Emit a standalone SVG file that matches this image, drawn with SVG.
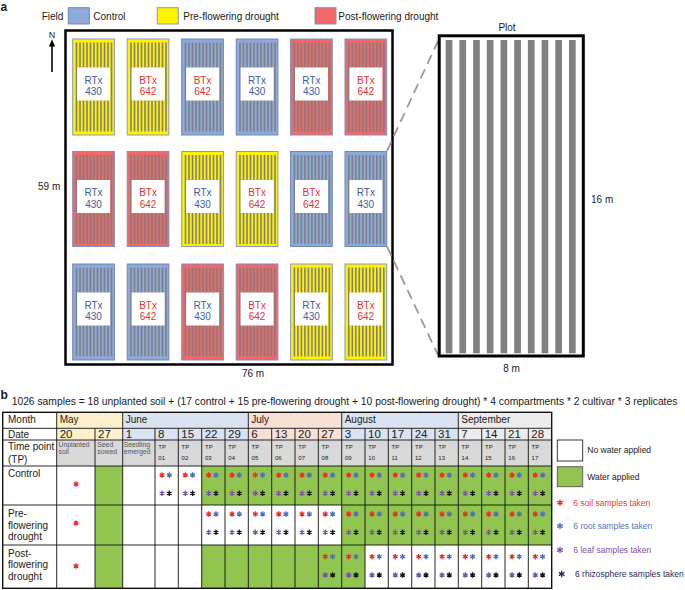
<svg xmlns="http://www.w3.org/2000/svg" width="685" height="590" viewBox="0 0 685 590">
<style>
text{font-family:"Liberation Sans",Arial,sans-serif;fill:#1a1a1a}
.f10{font-size:10px}
.lbl{font-size:10px}
.rt{font-size:10px;fill:#3e59a8;text-anchor:middle}
.bt{font-size:10px;fill:#e8302f;text-anchor:middle}
.cy{fill:#fff200;stroke:#8597c2;stroke-width:1}
.cb{fill:#8eaadb;stroke:#6f86b8;stroke-width:1}
.cr{fill:#f06868;stroke:#7e8fbd;stroke-width:1}
.box{fill:#fff}
.small{font-size:6.8px;fill:#555}
.tp{font-size:6px;fill:#555}
.date{font-size:11.5px}
.mon{font-size:10px}
.leg{font-size:8.5px}
.grid{stroke:#111;stroke-width:0.9;fill:none}
.ast{stroke-width:1.3;fill:none;stroke-linecap:butt}
</style>
<defs>
<g id="st" fill="#7f7f7f">
<rect x="3" y="3.5" width="1.6" height="89"/><rect x="6.5" y="3.5" width="1.6" height="89"/><rect x="10" y="3.5" width="1.6" height="89"/><rect x="13.5" y="3.5" width="1.6" height="89"/><rect x="17" y="3.5" width="1.6" height="89"/><rect x="20.5" y="3.5" width="1.6" height="89"/><rect x="24" y="3.5" width="1.6" height="89"/><rect x="27.5" y="3.5" width="1.6" height="89"/><rect x="31" y="3.5" width="1.6" height="89"/><rect x="34.5" y="3.5" width="1.6" height="89"/><rect x="38" y="3.5" width="1.6" height="89"/>
</g>
<path id="ak" d="M0,-2.7V2.7M-2.35,-1.35L2.35,1.35M-2.35,1.35L2.35,-1.35"/>
<path id="akL" d="M0,-3.2V3.2M-2.8,-1.6L2.8,1.6M-2.8,1.6L2.8,-1.6"/>
<g id="a4" class="ast">
<use href="#ak" x="7" y="0" stroke="#ee2b25"/><use href="#ak" x="14.3" y="0" stroke="#4e6ebd"/>
<use href="#ak" x="7" y="18.3" stroke="#7b4fa3"/><use href="#ak" x="14.3" y="18.3" stroke="#111"/>
</g>
</defs>

<!-- panel a -->
<text x="0.5" y="11" style="font-size:12px;font-weight:bold">a</text>
<g id="legend-field">
<text x="41.7" y="20" class="f10">Field</text>
<rect x="68.3" y="7.7" width="21" height="16.3" class="cb"/>
<text x="93.3" y="20" class="f10">Control</text>
<rect x="157.3" y="7.7" width="21" height="16.3" class="cy"/>
<text x="183.3" y="20" class="f10">Pre-flowering drought</text>
<rect x="315" y="7.7" width="21" height="16.3" class="cr"/>
<text x="338.3" y="20" class="f10">Post-flowering drought</text>
</g>
<g id="north">
<text x="52" y="38.3" style="font-size:9px;text-anchor:middle">N</text>
<line x1="52" y1="44" x2="52" y2="72" stroke="#000" stroke-width="1.6"/>
<polygon points="52,39.5 48.8,46.5 55.2,46.5" fill="#000"/>
</g>
<g id="field">
<rect x="65.5" y="30.5" width="327" height="334" fill="#fff" stroke="#000" stroke-width="2.5"/>
</g>

<g id="p11" transform="translate(72.7,39)"><rect width="41.7" height="96" class="cy"/><use href="#st"/><rect x="4.4" y="28.5" width="33" height="33" class="box"/><text x="20.85" y="44.5" class="rt">RTx</text><text x="20.85" y="56" class="rt">430</text></g>
<g id="p12" transform="translate(127.2,39)"><rect width="41.7" height="96" class="cy"/><use href="#st"/><rect x="4.4" y="28.5" width="33" height="33" class="box"/><text x="20.85" y="44.5" class="bt">BTx</text><text x="20.85" y="56" class="bt">642</text></g>
<g id="p13" transform="translate(181.7,39)"><rect width="41.7" height="96" class="cb"/><use href="#st"/><rect x="4.4" y="28.5" width="33" height="33" class="box"/><text x="20.85" y="44.5" class="bt">BTx</text><text x="20.85" y="56" class="bt">642</text></g>
<g id="p14" transform="translate(236.2,39)"><rect width="41.7" height="96" class="cb"/><use href="#st"/><rect x="4.4" y="28.5" width="33" height="33" class="box"/><text x="20.85" y="44.5" class="rt">RTx</text><text x="20.85" y="56" class="rt">430</text></g>
<g id="p15" transform="translate(290.6,39)"><rect width="41.7" height="96" class="cr"/><use href="#st"/><rect x="4.4" y="28.5" width="33" height="33" class="box"/><text x="20.85" y="44.5" class="rt">RTx</text><text x="20.85" y="56" class="rt">430</text></g>
<g id="p16" transform="translate(345,39)"><rect width="41.7" height="96" class="cr"/><use href="#st"/><rect x="4.4" y="28.5" width="33" height="33" class="box"/><text x="20.85" y="44.5" class="bt">BTx</text><text x="20.85" y="56" class="bt">642</text></g>

<g id="p21" transform="translate(72.7,151.5)"><rect width="41.7" height="95" class="cr"/><use href="#st"/><rect x="4.4" y="28.5" width="33" height="33" class="box"/><text x="20.85" y="44.5" class="rt">RTx</text><text x="20.85" y="56" class="rt">430</text></g>
<g id="p22" transform="translate(127.2,151.5)"><rect width="41.7" height="95" class="cr"/><use href="#st"/><rect x="4.4" y="28.5" width="33" height="33" class="box"/><text x="20.85" y="44.5" class="bt">BTx</text><text x="20.85" y="56" class="bt">642</text></g>
<g id="p23" transform="translate(181.7,151.5)"><rect width="41.7" height="95" class="cy"/><use href="#st"/><rect x="4.4" y="28.5" width="33" height="33" class="box"/><text x="20.85" y="44.5" class="rt">RTx</text><text x="20.85" y="56" class="rt">430</text></g>
<g id="p24" transform="translate(236.2,151.5)"><rect width="41.7" height="95" class="cy"/><use href="#st"/><rect x="4.4" y="28.5" width="33" height="33" class="box"/><text x="20.85" y="44.5" class="bt">BTx</text><text x="20.85" y="56" class="bt">642</text></g>
<g id="p25" transform="translate(290.6,151.5)"><rect width="41.7" height="95" class="cb"/><use href="#st"/><rect x="4.4" y="28.5" width="33" height="33" class="box"/><text x="20.85" y="44.5" class="bt">BTx</text><text x="20.85" y="56" class="bt">642</text></g>
<g id="p26" transform="translate(345,151.5)"><rect width="41.7" height="95" class="cb"/><use href="#st"/><rect x="4.4" y="28.5" width="33" height="33" class="box"/><text x="20.85" y="44.5" class="rt">RTx</text><text x="20.85" y="56" class="rt">430</text></g>

<g id="p31" transform="translate(72.7,264)"><rect width="41.7" height="96" class="cb"/><use href="#st"/><rect x="4.4" y="28.5" width="33" height="33" class="box"/><text x="20.85" y="44.5" class="rt">RTx</text><text x="20.85" y="56" class="rt">430</text></g>
<g id="p32" transform="translate(127.2,264)"><rect width="41.7" height="96" class="cb"/><use href="#st"/><rect x="4.4" y="28.5" width="33" height="33" class="box"/><text x="20.85" y="44.5" class="bt">BTx</text><text x="20.85" y="56" class="bt">642</text></g>
<g id="p33" transform="translate(181.7,264)"><rect width="41.7" height="96" class="cr"/><use href="#st"/><rect x="4.4" y="28.5" width="33" height="33" class="box"/><text x="20.85" y="44.5" class="rt">RTx</text><text x="20.85" y="56" class="rt">430</text></g>
<g id="p34" transform="translate(236.2,264)"><rect width="41.7" height="96" class="cr"/><use href="#st"/><rect x="4.4" y="28.5" width="33" height="33" class="box"/><text x="20.85" y="44.5" class="bt">BTx</text><text x="20.85" y="56" class="bt">642</text></g>
<g id="p35" transform="translate(290.6,264)"><rect width="41.7" height="96" class="cy"/><use href="#st"/><rect x="4.4" y="28.5" width="33" height="33" class="box"/><text x="20.85" y="44.5" class="rt">RTx</text><text x="20.85" y="56" class="rt">430</text></g>
<g id="p36" transform="translate(345,264)"><rect width="41.7" height="96" class="cy"/><use href="#st"/><rect x="4.4" y="28.5" width="33" height="33" class="box"/><text x="20.85" y="44.5" class="bt">BTx</text><text x="20.85" y="56" class="bt">642</text></g>

<text x="38" y="189.5" class="f10">59 m</text>
<text x="253" y="376.5" class="f10" text-anchor="middle">76 m</text>

<g id="connectors">
<line x1="387" y1="151" x2="438" y2="41" stroke="#9a9a9a" stroke-width="1.8" stroke-dasharray="10,6"/>
<line x1="387" y1="246.5" x2="438" y2="355" stroke="#9a9a9a" stroke-width="1.8" stroke-dasharray="10,6"/>
</g>

<g id="plot-detail">
<text x="507" y="31" class="f10" text-anchor="middle">Plot</text>
<rect x="439.2" y="35.8" width="144.1" height="320.2" fill="#fff" stroke="#000" stroke-width="3"/>
<g fill="#808080">
<rect x="445.7" y="40" width="6.7" height="313.3"/><rect x="459.4" y="40" width="6.7" height="313.3"/><rect x="473.1" y="40" width="6.7" height="313.3"/><rect x="486.8" y="40" width="6.7" height="313.3"/><rect x="500.5" y="40" width="6.7" height="313.3"/><rect x="514.2" y="40" width="6.7" height="313.3"/><rect x="527.9" y="40" width="6.7" height="313.3"/><rect x="541.6" y="40" width="6.7" height="313.3"/><rect x="555.3" y="40" width="6.7" height="313.3"/><rect x="569" y="40" width="6.7" height="313.3"/>
</g>
<text x="591" y="203" class="f10">16 m</text>
<text x="511.5" y="372" class="f10" text-anchor="middle">8 m</text>
</g>

<!-- panel b -->
<text x="0.5" y="399" style="font-size:12px;font-weight:bold">b</text>
<text x="11.7" y="404.5" style="font-size:10.3px">1026 samples = 18 unplanted soil + (17 control + 15 pre-flowering drought + 10 post-flowering drought) * 4 compartments * 2 cultivar * 3 replicates</text>

<g id="table">
<!-- fills -->
<rect x="2.7" y="412.3" width="549" height="176" fill="#fff"/>
<rect x="56.7" y="412.3" width="66" height="27.7" fill="#fdf0ca"/>
<rect x="122.7" y="412.3" width="125.6" height="27.7" fill="#dae3f1"/>
<rect x="248.3" y="412.3" width="93.4" height="27.7" fill="#f8e0d5"/>
<rect x="341.7" y="412.3" width="116.6" height="27.7" fill="#dae3f1"/>
<rect x="458.3" y="412.3" width="93.4" height="27.7" fill="#ececec"/>
<rect x="56.7" y="440" width="495" height="26" fill="#d9d9d9"/>
<rect x="95" y="466" width="27.7" height="122.3" fill="#92c450"/>
<rect x="201.7" y="466" width="350" height="39" fill="#92c450"/>
<rect x="341.7" y="505" width="210" height="40" fill="#92c450"/>
<rect x="201.7" y="545" width="163.3" height="43.3" fill="#92c450"/>
<!-- grid -->
<g class="grid">
<path d="M2.7,428.3H551.7M2.7,440H551.7M2.7,466H551.7M2.7,505H551.7M2.7,545H551.7"/>
<path d="M56.7,412.3V588.3M122.7,412.3V588.3M248.3,412.3V588.3M341.7,412.3V588.3M458.3,412.3V588.3"/>
<path d="M95,428.3V588.3M155,428.3V588.3M178.3,428.3V588.3M201.7,428.3V588.3M225,428.3V588.3M271.7,428.3V588.3M295,428.3V588.3M318.3,428.3V588.3M365,428.3V588.3M388.3,428.3V588.3M411.7,428.3V588.3M435,428.3V588.3M481.7,428.3V588.3M505,428.3V588.3M528.3,428.3V588.3"/>
<rect x="2.7" y="412.3" width="549" height="176" stroke-width="1.4"/>
</g>
<!-- labels -->
<text x="8" y="423" class="lbl">Month</text>
<text x="8" y="437.7" class="lbl">Date</text>
<text x="8" y="450" class="lbl">Time point</text>
<text x="8" y="463" class="lbl">(TP)</text>
<text x="8" y="477" class="lbl">Control</text>
<text x="8" y="517" class="lbl">Pre-</text>
<text x="8" y="528.5" class="lbl">flowering</text>
<text x="8" y="540" class="lbl">drought</text>
<text x="8" y="556.5" class="lbl">Post-</text>
<text x="8" y="568" class="lbl">flowering</text>
<text x="8" y="579.5" class="lbl">drought</text>
<!-- months -->
<text x="59.7" y="423" class="mon">May</text>
<text x="125.7" y="423" class="mon">June</text>
<text x="251.3" y="423" class="mon">July</text>
<text x="344.7" y="423" class="mon">August</text>
<text x="461.3" y="423" class="mon">September</text>
<!-- dates -->
<g class="date">
<text x="59.7" y="437.7">20</text><text x="98" y="437.7">27</text><text x="125.7" y="437.7">1</text>
<text x="158" y="437.7">8</text><text x="181.3" y="437.7">15</text><text x="204.7" y="437.7">22</text><text x="228" y="437.7">29</text>
<text x="251.3" y="437.7">6</text><text x="274.7" y="437.7">13</text><text x="298" y="437.7">20</text><text x="321.3" y="437.7">27</text>
<text x="344.7" y="437.7">3</text><text x="368" y="437.7">10</text><text x="391.3" y="437.7">17</text><text x="414.7" y="437.7">24</text><text x="438" y="437.7">31</text>
<text x="461.3" y="437.7">7</text><text x="484.7" y="437.7">14</text><text x="508" y="437.7">21</text><text x="531.3" y="437.7">28</text>
</g>
<!-- time points -->
<text x="58.5" y="446.5" class="small">Unplanted</text><text x="58.5" y="453.5" class="small">soil</text>
<text x="97.3" y="446.5" class="small">Seed</text><text x="97.3" y="453.5" class="small">sowed</text>
<text x="123.7" y="446.5" class="small">Seedling</text><text x="123.7" y="453.5" class="small">emerged</text>
<g class="tp">
<text x="158.3" y="448.5">TP</text><text x="158.3" y="460">01</text>
<text x="181.6" y="448.5">TP</text><text x="181.6" y="460">02</text>
<text x="205" y="448.5">TP</text><text x="205" y="460">03</text>
<text x="228.3" y="448.5">TP</text><text x="228.3" y="460">04</text>
<text x="251.6" y="448.5">TP</text><text x="251.6" y="460">05</text>
<text x="275" y="448.5">TP</text><text x="275" y="460">06</text>
<text x="298.3" y="448.5">TP</text><text x="298.3" y="460">07</text>
<text x="321.6" y="448.5">TP</text><text x="321.6" y="460">08</text>
<text x="345" y="448.5">TP</text><text x="345" y="460">09</text>
<text x="368.3" y="448.5">TP</text><text x="368.3" y="460">10</text>
<text x="391.6" y="448.5">TP</text><text x="391.6" y="460">11</text>
<text x="415" y="448.5">TP</text><text x="415" y="460">12</text>
<text x="438.3" y="448.5">TP</text><text x="438.3" y="460">13</text>
<text x="461.6" y="448.5">TP</text><text x="461.6" y="460">14</text>
<text x="485" y="448.5">TP</text><text x="485" y="460">15</text>
<text x="508.3" y="448.5">TP</text><text x="508.3" y="460">16</text>
<text x="531.6" y="448.5">TP</text><text x="531.6" y="460">17</text>
</g>
<!-- asterisks -->
<g class="ast" stroke="#ee2b25">
<use href="#ak" x="76" y="484"/><use href="#ak" x="76" y="523"/><use href="#ak" x="76" y="566"/>
</g>
<g id="ctl-ast">
<use href="#a4" x="155" y="475"/><use href="#a4" x="178.3" y="475"/><use href="#a4" x="201.7" y="475"/><use href="#a4" x="225" y="475"/><use href="#a4" x="248.3" y="475"/><use href="#a4" x="271.7" y="475"/><use href="#a4" x="295" y="475"/><use href="#a4" x="318.3" y="475"/><use href="#a4" x="341.7" y="475"/><use href="#a4" x="365" y="475"/><use href="#a4" x="388.3" y="475"/><use href="#a4" x="411.7" y="475"/><use href="#a4" x="435" y="475"/><use href="#a4" x="458.3" y="475"/><use href="#a4" x="481.7" y="475"/><use href="#a4" x="505" y="475"/><use href="#a4" x="528.3" y="475"/>
</g>
<g id="pre-ast">
<use href="#a4" x="201.7" y="514"/><use href="#a4" x="225" y="514"/><use href="#a4" x="248.3" y="514"/><use href="#a4" x="271.7" y="514"/><use href="#a4" x="295" y="514"/><use href="#a4" x="318.3" y="514"/><use href="#a4" x="341.7" y="514"/><use href="#a4" x="365" y="514"/><use href="#a4" x="388.3" y="514"/><use href="#a4" x="411.7" y="514"/><use href="#a4" x="435" y="514"/><use href="#a4" x="458.3" y="514"/><use href="#a4" x="481.7" y="514"/><use href="#a4" x="505" y="514"/><use href="#a4" x="528.3" y="514"/>
</g>
<g id="post-ast">
<use href="#a4" x="318.3" y="556.7"/><use href="#a4" x="341.7" y="556.7"/><use href="#a4" x="365" y="556.7"/><use href="#a4" x="388.3" y="556.7"/><use href="#a4" x="411.7" y="556.7"/><use href="#a4" x="435" y="556.7"/><use href="#a4" x="458.3" y="556.7"/><use href="#a4" x="481.7" y="556.7"/><use href="#a4" x="505" y="556.7"/><use href="#a4" x="528.3" y="556.7"/>
</g>
</g>

<g id="legend-b">
<rect x="557.3" y="440" width="25.4" height="21" fill="#fff" stroke="#222" stroke-width="0.9"/>
<text x="587.3" y="453" class="leg">No water applied</text>
<rect x="557.3" y="466.7" width="25.4" height="20" fill="#92c450" stroke="#555" stroke-width="0.9"/>
<text x="587.3" y="480" class="leg">Water applied</text>
<use href="#akL" x="560" y="502.7" class="ast" stroke="#ee2b25"/>
<text x="573.3" y="505.5" class="leg" style="fill:#e83a32">6 soil samples taken</text>
<use href="#akL" x="560" y="526" class="ast" stroke="#5570bd"/>
<text x="573.3" y="529" class="leg" style="fill:#5b73bd">6 root samples taken</text>
<use href="#akL" x="560" y="550" class="ast" stroke="#7f52a5"/>
<text x="573.3" y="553" class="leg" style="fill:#7f52a5">6 leaf samples taken</text>
<use href="#akL" x="561.7" y="574" class="ast" stroke="#25295a"/>
<text x="575" y="577" class="leg" style="fill:#25295a">6 rhizosphere samples taken</text>
</g>
</svg>
